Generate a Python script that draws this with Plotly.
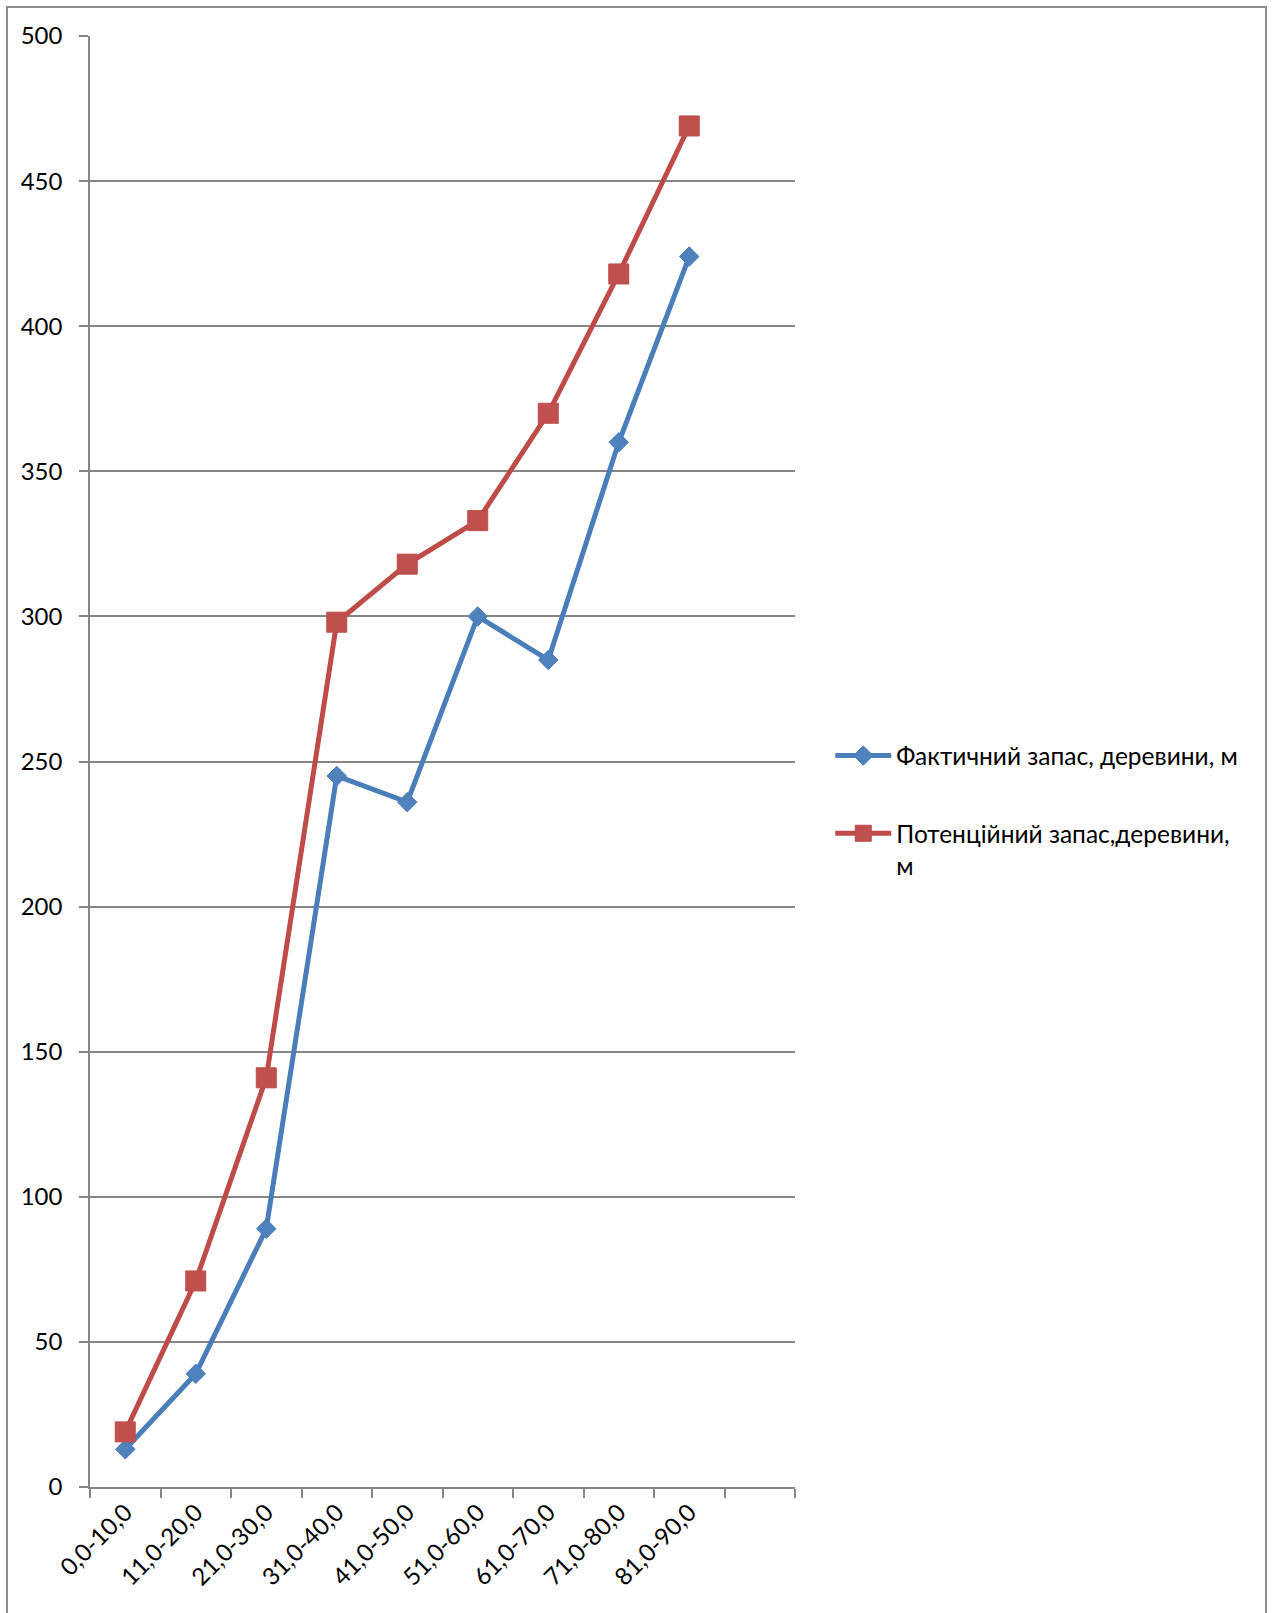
import plotly.graph_objects as go

# Diameter classes (the tenth slot on the axis is left empty)
classes = ["0,0-10,0", "11,0-20,0", "21,0-30,0", "31,0-40,0", "41,0-50,0",
           "51,0-60,0", "61,0-70,0", "71,0-80,0", "81,0-90,0"]
actual_stock = [13, 39, 89, 245, 236, 300, 285, 360, 424]
potential_stock = [19, 71, 141, 298, 318, 333, 370, 418, 469]

name_actual = "Фактичний запас, деревини, м"
name_potential = "Потенційний запас,деревини,<br>м"

x_pos = list(range(len(classes)))
FONT = "Lato, 'Liberation Sans', Arial, sans-serif"
GRID = "#868686"

fig = go.Figure()
fig.add_trace(go.Scatter(
    x=x_pos, y=actual_stock, name=name_actual, mode="lines+markers",
    line=dict(color="#4A7EBB", width=5),
    marker=dict(symbol="diamond", size=15, color="#4F81BD",
                line=dict(color="#4A7EBB", width=1)),
    legend="legend",
))
fig.add_trace(go.Scatter(
    x=x_pos, y=potential_stock, name=name_potential, mode="lines+markers",
    line=dict(color="#BE4B48", width=5),
    marker=dict(symbol="square", size=20, color="#C0504D",
                line=dict(color="#BE4B48", width=1)),
    legend="legend2",
))

fig.update_layout(
    width=1272, height=1613,
    margin=dict(l=90, r=477, t=36, b=126),
    paper_bgcolor="white", plot_bgcolor="white",
    font=dict(family=FONT, size=24, color="black"),
    showlegend=True,
    legend=dict(x=1.05, y=0.504, xanchor="left", yanchor="middle",
                bgcolor="rgba(0,0,0,0)", itemwidth=56, valign="top",
                font=dict(family=FONT, size=24.5)),
    legend2=dict(x=1.05, y=0.466, xanchor="left", yanchor="top",
                 bgcolor="rgba(0,0,0,0)", itemwidth=56, valign="top",
                 font=dict(family=FONT, size=24.5)),
)

fig.update_xaxes(
    range=[-0.5, 9.5], tickmode="array", tickvals=x_pos, ticktext=classes,
    tickangle=-45, ticks="", showgrid=False, zeroline=False,
    showline=True, linecolor=GRID, linewidth=1.5,
    minor=dict(tickmode="array", tickvals=[i - 0.5 for i in range(11)],
               ticks="outside", ticklen=9, tickwidth=1.5, tickcolor=GRID,
               showgrid=False),
    tickfont=dict(family=FONT, size=24),
)
fig.update_yaxes(
    range=[0, 500], tickmode="linear", tick0=0, dtick=50,
    showgrid=True, gridcolor=GRID, gridwidth=1.5,
    zeroline=False, showline=True, linecolor=GRID, linewidth=1.5,
    ticks="outside", ticklen=9, tickwidth=1.5, tickcolor=GRID,
    ticklabelstandoff=12,
    tickfont=dict(family=FONT, size=24),
)

# Chart frame around the whole drawing
fig.add_shape(type="rect", xref="paper", yref="paper",
              x0=(7 - 90) / 705, x1=(1266 - 90) / 705,
              y0=-0.2, y1=(1487 - 7) / 1451,
              line=dict(color="#8C8C8C", width=2), layer="below")

fig.write_html("out.html")
